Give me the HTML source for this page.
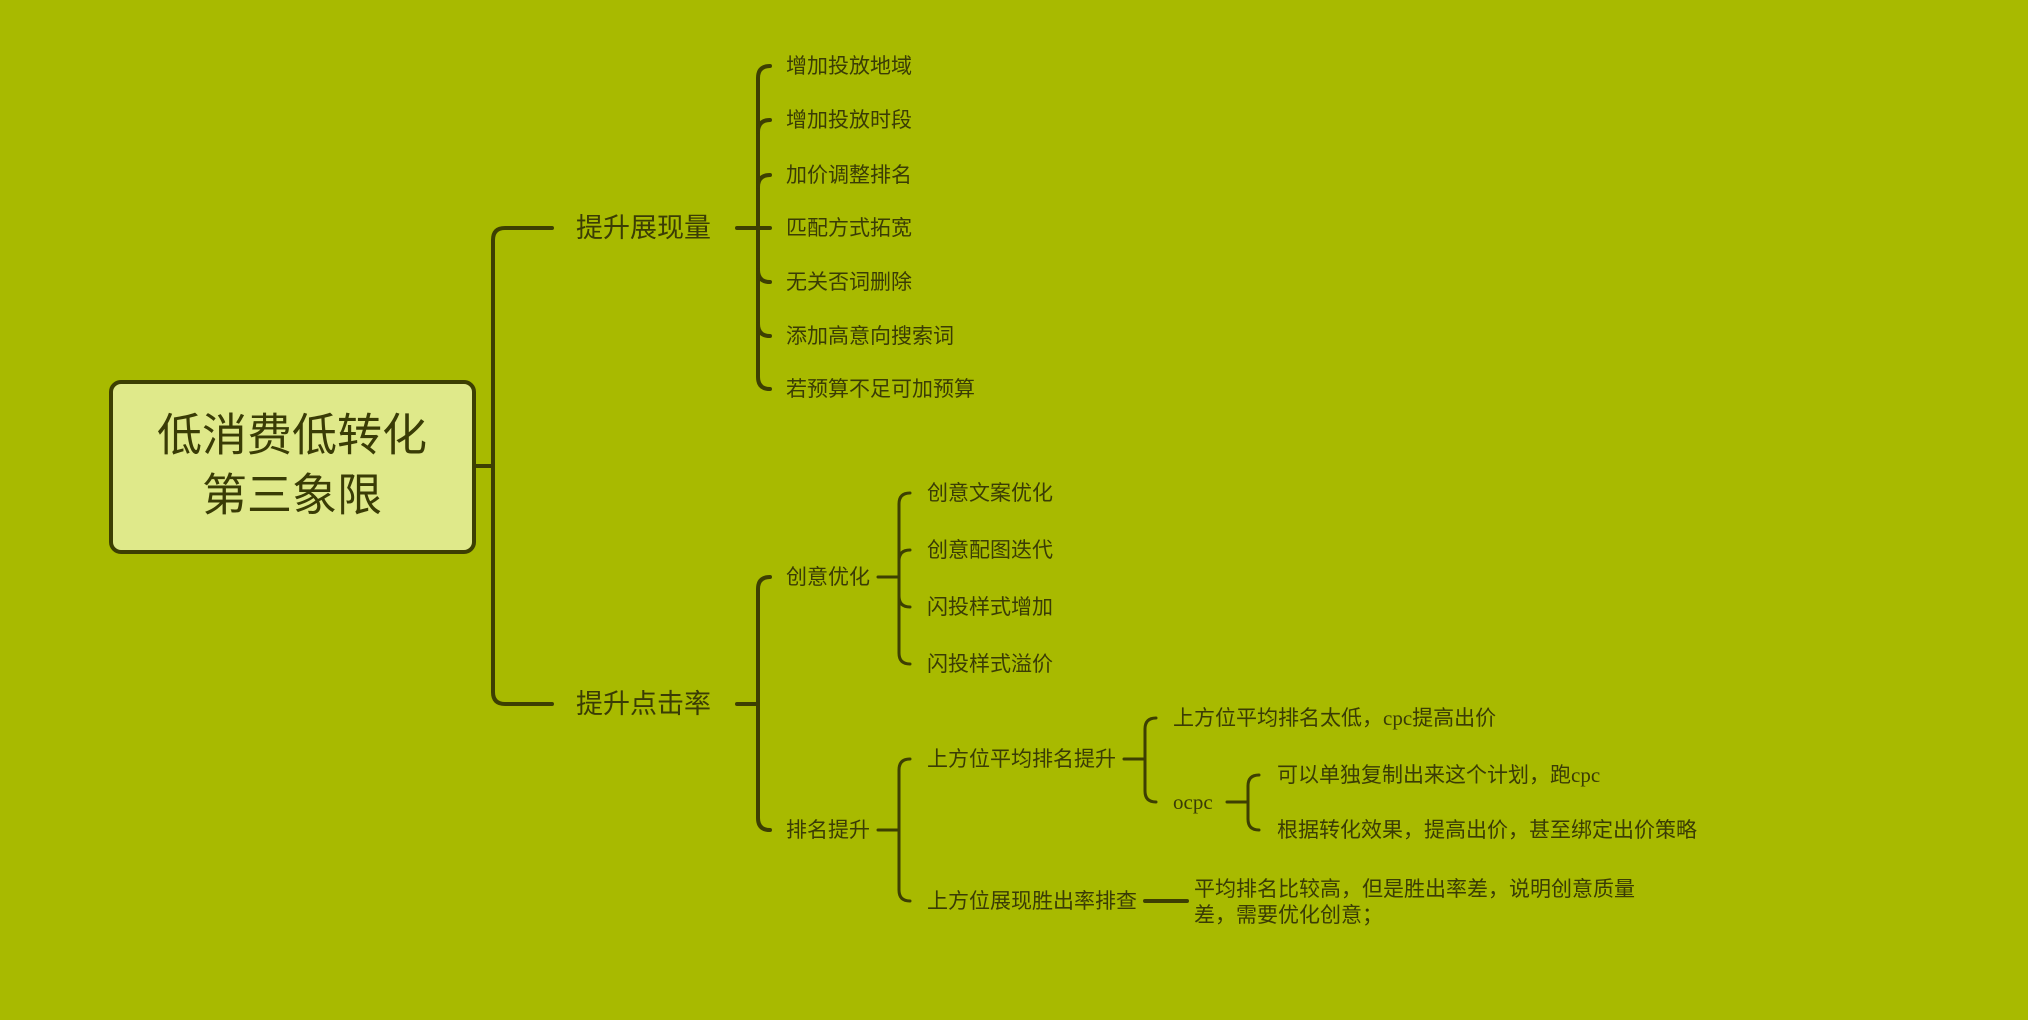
<!DOCTYPE html>
<html><head><meta charset="utf-8"><style>
html,body{margin:0;padding:0;background:#a8ba00;}
svg{display:block}
text{font-family:"Liberation Sans","Noto Sans CJK SC",sans-serif;fill:#3a3c05;dominant-baseline:central;}
.s text{font-family:"Liberation Serif","Noto Sans CJK SC",sans-serif;}
</style></head><body>
<svg width="2028" height="1020" viewBox="0 0 2028 1020" xmlns="http://www.w3.org/2000/svg">
<rect width="2028" height="1020" fill="#a8ba00"/>
<g fill="none" stroke="#3d3f02" stroke-width="4" stroke-linecap="round">
<path d="M476 466 H493"/>
<path d="M552 228 H505 Q493 228 493 240 V692 Q493 704 505 704 H552"/>
<path d="M737 228 H758"/>
<path d="M770 66 Q758 66 758 78 V377 Q758 389 770 389"/>
<path d="M770 120 Q758 120 758 132 M770 175 Q758 175 758 187 M758 228 H770 M758 270 Q758 282 770 282 M758 324 Q758 336 770 336"/>
<path d="M737 704 H758"/>
<path d="M770 577 Q758 577 758 589 V818 Q758 830 770 830"/>
</g>
<g fill="none" stroke="#3d3f02" stroke-width="3" stroke-linecap="round">
<path d="M878 577 H899"/>
<path d="M910 493 Q899 493 899 504 V653 Q899 664 910 664"/>
<path d="M910 550 Q899 550 899 561 M899 596 Q899 607 910 607"/>
<path d="M878 830 H899"/>
<path d="M910 759 Q899 759 899 770 V890 Q899 901 910 901"/>
<path d="M1124 759 H1145"/>
<path d="M1156 718 Q1145 718 1145 729 V791 Q1145 802 1156 802"/>
<path d="M1227 802 H1248"/>
<path d="M1259 775 Q1248 775 1248 786 V819 Q1248 830 1259 830"/>
<path d="M1145 901 H1187" stroke-width="4"/>
</g>
<rect x="111" y="382" width="363" height="170" rx="10" fill="#dfe98a" stroke="#3d3f02" stroke-width="4"/>
<text x="292" y="435" font-size="45" text-anchor="middle">低消费低转化</text>
<text x="292" y="495" font-size="45" text-anchor="middle">第三象限</text>
<text x="576" y="228" font-size="27">提升展现量</text>
<text x="576" y="704" font-size="27">提升点击率</text>
<g class="s">
<text x="786" y="66" font-size="21">增加投放地域</text>
<text x="786" y="120" font-size="21">增加投放时段</text>
<text x="786" y="175" font-size="21">加价调整排名</text>
<text x="786" y="228" font-size="21">匹配方式拓宽</text>
<text x="786" y="282" font-size="21">无关否词删除</text>
<text x="786" y="336" font-size="21">添加高意向搜索词</text>
<text x="786" y="389" font-size="21">若预算不足可加预算</text>
<text x="786" y="577" font-size="21">创意优化</text>
<text x="786" y="830" font-size="21">排名提升</text>
<text x="927" y="493" font-size="21">创意文案优化</text>
<text x="927" y="550" font-size="21">创意配图迭代</text>
<text x="927" y="607" font-size="21">闪投样式增加</text>
<text x="927" y="664" font-size="21">闪投样式溢价</text>
<text x="927" y="759" font-size="21">上方位平均排名提升</text>
<text x="927" y="901" font-size="21">上方位展现胜出率排查</text>
<text x="1173" y="718" font-size="21">上方位平均排名太低，cpc提高出价</text>
<text x="1173" y="802" font-size="21">ocpc</text>
<text x="1277" y="775" font-size="21">可以单独复制出来这个计划，跑cpc</text>
<text x="1277" y="830" font-size="21">根据转化效果，提高出价，甚至绑定出价策略</text>
<text x="1194" y="889" font-size="21">平均排名比较高，但是胜出率差，说明创意质量</text>
<text x="1194" y="915" font-size="21">差，需要优化创意；</text>
</g>
</svg>
</body></html>
